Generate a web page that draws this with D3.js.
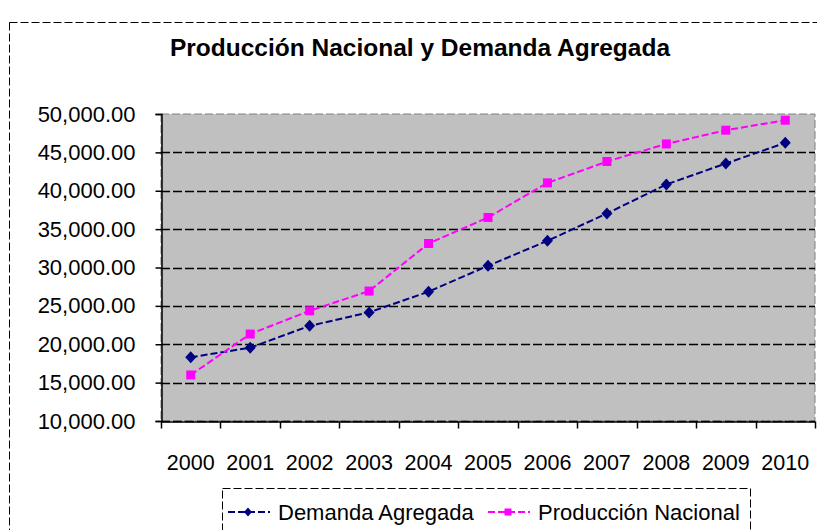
<!DOCTYPE html>
<html lang="es">
	<head>
		<meta charset="utf-8">
		<title>Producción Nacional y Demanda Agregada</title>
		<script type="text/javascript" src="https://d3js.org/d3.v7.min.js"></script>
		<style type="text/css">
			body {
				margin: 0;
				background-color: #ffffff;
			}
			text {
				font-family: "Liberation Sans", Arial, sans-serif;
				fill: #000;
			}
		</style>
	</head>
	<body>
		<script type="text/javascript">

			//Data
			var years = ["2000", "2001", "2002", "2003", "2004", "2005", "2006", "2007", "2008", "2009", "2010"];
			var demanda = [18300, 19550, 22400, 24150, 26850, 30220, 33480, 37040, 40820, 43550, 46240];
			var produccion = [16000, 21330, 24360, 26930, 33130, 36520, 41030, 43810, 46100, 47890, 49190];
			var yTicks = [10000, 15000, 20000, 25000, 30000, 35000, 40000, 45000, 50000];
			var seriesNames = ["Demanda Agregada", "Producción Nacional"];

			//Width and height
			var w = 817;
			var h = 530;
			var plot = {left: 161, right: 815, top: 114, bottom: 421};

			var svg = d3.select("body")
						.append("svg")
						.attr("width", w)
						.attr("height", h);

			//Outer chart border (dashed, runs off the page right and bottom)
			svg.append("rect")
			   .attr("x", 9.5)
			   .attr("y", 22.5)
			   .attr("width", 900)
			   .attr("height", 600)
			   .attr("fill", "none")
			   .attr("stroke", "#000")
			   .attr("stroke-dasharray", "8,3");

			//Title
			svg.append("text")
			   .attr("x", 420)
			   .attr("y", 56)
			   .attr("text-anchor", "middle")
			   .style("font-size", "24.5px")
			   .style("font-weight", "bold")
			   .text("Producción Nacional y Demanda Agregada");

			//Scales
			var x = d3.scaleBand()
					  .domain(years)
					  .range([plot.left, plot.right]);

			var y = d3.scaleLinear()
					  .domain([10000, 50000])
					  .range([plot.bottom, plot.top]);

			//Plot area
			svg.append("rect")
			   .attr("x", plot.left)
			   .attr("y", plot.top)
			   .attr("width", plot.right - plot.left)
			   .attr("height", plot.bottom - plot.top)
			   .attr("fill", "#c0c0c0")
			   .attr("stroke", "#808080")
			   .attr("stroke-dasharray", "8,3");

			//Gridlines (top one is the grey plot border)
			svg.append("g")
			   .selectAll("line")
			   .data(yTicks.slice(0, -1))
			   .enter()
			   .append("line")
			   .attr("x1", plot.left)
			   .attr("x2", plot.right)
			   .attr("y1", function(d) { return Math.round(y(d)) + 0.5; })
			   .attr("y2", function(d) { return Math.round(y(d)) + 0.5; })
			   .attr("stroke", "#000")
			   .attr("stroke-width", 1.3)
			   .attr("stroke-dasharray", "9,3");

			//Y axis
			var yAxis = d3.axisLeft(y)
						  .tickValues(yTicks)
						  .tickSize(6)
						  .tickPadding(20)
						  .tickFormat(d3.format(",.2f"));

			var gy = svg.append("g")
						.attr("transform", "translate(" + (plot.left + 0.5) + ",0)")
						.call(yAxis);
			gy.selectAll("text").style("font-size", "22px").style("font-family", "'Liberation Sans', Arial, sans-serif");
			gy.selectAll("line, path").attr("stroke", "#000").attr("stroke-width", 1.5);

			//X axis: ticks between categories
			var xAxis = d3.axisBottom(x)
						  .tickSize(0)
						  .tickPadding(33);

			var gx = svg.append("g")
						.attr("transform", "translate(0," + (plot.bottom + 0.5) + ")")
						.call(xAxis);
			gx.select(".domain").attr("stroke", "#000").attr("stroke-width", 1.5);
			gx.selectAll("text").style("font-size", "21.5px").style("font-family", "'Liberation Sans', Arial, sans-serif");

			var bounds = years.map(function(d) { return x(d); }).concat([plot.right]);
			gx.selectAll(".sep")
			  .data(bounds)
			  .enter()
			  .append("line")
			  .attr("x1", function(d) { return Math.round(d) + 0.5; })
			  .attr("x2", function(d) { return Math.round(d) + 0.5; })
			  .attr("y1", 0)
			  .attr("y2", 7)
			  .attr("stroke", "#000")
			  .attr("stroke-width", 1.5);

			//Lines and markers
			var cx = function(d, i) { return x(years[i]) + x.bandwidth() / 2; };

			var line = d3.line()
						 .x(cx)
						 .y(function(d) { return y(d); });

			// Excel style markers: squat diamond and square
			var diamond = "M0,-6L5.5,0L0,6L-5.5,0Z";
			var square = "M-4.5,-4.5H4.5V4.5H-4.5Z";
			var diamondSmall = "M0,-4.5L4,0L0,4.5L-4,0Z";
			var squareSmall = "M-3.5,-3.5H3.5V3.5H-3.5Z";

			function drawSeries(values, color, sym) {
				svg.append("path")
				   .datum(values)
				   .attr("d", line)
				   .attr("fill", "none")
				   .attr("stroke", color)
				   .attr("stroke-width", 2)
				   .attr("stroke-dasharray", "7,3");

				svg.append("g")
				   .selectAll("path")
				   .data(values)
				   .enter()
				   .append("path")
				   .attr("d", sym)
				   .attr("transform", function(d, i) { return "translate(" + cx(d, i) + "," + y(d) + ")"; })
				   .attr("fill", color);
			}

			drawSeries(demanda, "#000080", diamond);
			drawSeries(produccion, "#ff00ff", square);

			//Legend
			var legend = svg.append("g");

			legend.append("rect")
				  .attr("x", 222.5)
				  .attr("y", 488.5)
				  .attr("width", 528)
				  .attr("height", 60)
				  .attr("fill", "#fff")
				  .attr("stroke", "#000")
				  .attr("stroke-dasharray", "8,3");

			var legendItems = [
				{name: seriesNames[0], color: "#000080", sym: diamondSmall, x: 228},
				{name: seriesNames[1], color: "#ff00ff", sym: squareSmall, x: 488}
			];

			legendItems.forEach(function(it) {
				legend.append("line")
					  .attr("x1", it.x)
					  .attr("x2", it.x + 42)
					  .attr("y1", 512)
					  .attr("y2", 512)
					  .attr("stroke", it.color)
					  .attr("stroke-width", 2)
					  .attr("stroke-dasharray", "7,3");
				legend.append("path")
					  .attr("d", it.sym)
					  .attr("transform", "translate(" + (it.x + 20) + ",512)")
					  .attr("fill", it.color);
				legend.append("text")
					  .attr("x", it.x + 50)
					  .attr("y", 520)
					  .style("font-size", "22px")
					  .text(it.name);
			});

		</script>
	</body>
</html>
